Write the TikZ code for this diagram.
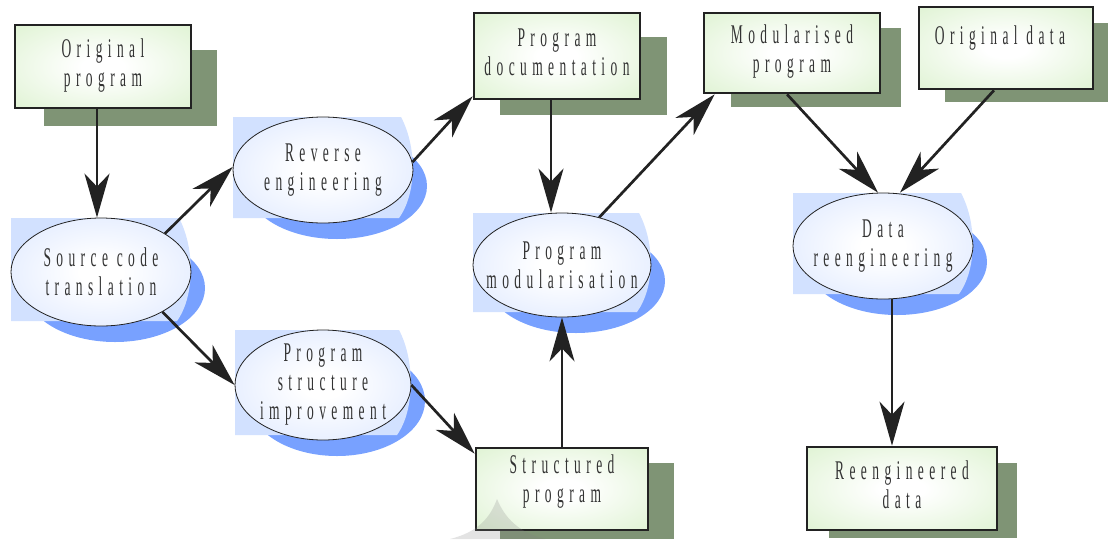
\documentclass[tikz,border=0pt]{standalone}
\usepackage{fontspec}
\usetikzlibrary{arrows.meta,shapes.geometric}
\newfontfamily\lblfont{Liberation Serif}[FakeStretch=0.5,LetterSpace=20]
\definecolor{boxgreen}{HTML}{D5EFC5}
\definecolor{boxshadow}{HTML}{7F9475}
\definecolor{ellblue}{HTML}{CCDCFF}
\definecolor{ellshadow}{HTML}{78A1FF}
\definecolor{ellbg}{HTML}{D2E1FF}
\definecolor{ink}{HTML}{222222}
\definecolor{txt}{HTML}{333333}
\pgfdeclareradialshading{boxshade}{\pgfpointorigin}{color(0bp)=(white); color(6bp)=(white); color(46bp)=(boxgreen); color(100bp)=(boxgreen)}
\pgfdeclareradialshading{ellshade}{\pgfpointorigin}{color(0bp)=(white); color(6bp)=(white); color(50bp)=(ellblue); color(100bp)=(ellblue)}
\tikzset{
 box/.style={draw=ink, line width=2.6pt, shading=boxshade, rectangle, inner sep=0pt},
 ell/.style={draw=ink, line width=0.8pt, shading=ellshade, ellipse, inner sep=0pt},
 lbl/.style={font=\lblfont\fontsize{27}{29}\selectfont, text=txt, align=center, inner sep=0pt},
 conn/.style={draw=ink, line width=2.7pt, -{Stealth[length=44pt,width=25pt,inset=13pt]}},
 bshadow/.style={fill=boxshadow},
 eshadow/.style={fill=ellshadow},
 ebg/.style={fill=ellbg},
}
\newcommand\EllNode[6]{%
  \fill[eshadow] (#2+14,#3+16) ellipse [x radius=#4, y radius=#5];
  \fill[ebg] (#2-#4,#3-#5) -- (#2+#4-12,#3-#5) .. controls (#2+#4+4,#3-#5+30) and (#2+#4+4,#3+#5-30) .. (#2+#4-14,#3+#5-5) -- (#2-#4,#3+#5-5) -- cycle;
  \node[ell, minimum width={(2*#4)*1pt}, minimum height={(2*#5)*1pt}] (#1) at (#2,#3) {};
  \node[lbl] (#1-t) at (#2,#3) {#6};
}
\begin{document}
\begin{tikzpicture}[x=1pt,y=-1pt]
\useasboundingbox (0,0) rectangle (1108,539);
% box shadows
\fill[bshadow] (44,50) rectangle (217,126);
\fill[bshadow] (500,37) rectangle (667,115);
\fill[bshadow] (731,28) rectangle (901,107);
\fill[bshadow] (945,23) rectangle (1108,102);
\fill[bshadow] (500,463) rectangle (674,539);
\fill[bshadow] (829,463) rectangle (1017,538);
% boxes
\node[box, minimum width=176pt, minimum height=83pt] (op) at (103,66.5) {};
\node[lbl] (op-t) at (103,66) {Original\\program};
\node[box, minimum width=166pt, minimum height=86pt] (pd) at (557,56) {};
\node[lbl] (pd-t) at (557,52) {Program\\documentation};
\node[box, minimum width=176pt, minimum height=80pt] (mp) at (792,53) {};
\node[lbl] (mp-t) at (792,52) {Modularised\\program};
\node[box, minimum width=174pt, minimum height=82pt] (od) at (1006,48) {};
\node[lbl] (od-t) at (1000,38) {Original data};
\node[box, minimum width=172pt, minimum height=82pt] (sp) at (562,489) {};
\node[lbl] (sp-t) at (562,482) {Structured\\program};
\node[box, minimum width=190pt, minimum height=83pt] (rd) at (902,488.5) {};
\node[lbl] (rd-t) at (902,485) {Reengineered\\data};
% ellipses
\EllNode{sct}{101}{272}{90}{54}{Source code\\translation}
\EllNode{rev}{323}{170}{90}{53}{Reverse\\engineering}
\EllNode{psi}{323}{385}{88}{55}{Program\\structure\\improvement}
\EllNode{pm}{562}{265}{89}{52}{Program\\modularisation}
\EllNode{dr}{883}{246}{90}{53}{Data\\reengineering}
% faint artifact
\fill[gray,opacity=0.22] (450,539) .. controls (478,532) and (490,518) .. (497,499) .. controls (505,518) and (518,532) .. (545,539) -- cycle;
% connectors
\draw[conn] ([xshift=-6pt]op.south) -- ([xshift=-4pt]sct.north);
\draw[conn] (sct.31) -- (rev.178);
\draw[conn] (sct.-33) -- (psi.west);
\draw[conn] (rev.5) -- ([yshift=4pt]pd.south west);
\draw[conn] ([xshift=-6pt]pd.south) -- ([xshift=-11pt]pm.north);
\draw[conn] (psi.east) -- ([yshift=-7pt]sp.north west);
\draw[conn] (sp.north) -- (pm.south);
\draw[conn] (pm.52) -- ([xshift=12pt]mp.south west);
\draw[conn] ([xshift=-5pt]mp.south) -- ([xshift=-5pt]dr.north);
\draw[conn] ([xshift=-12pt]od.south) -- ([xshift=17pt]dr.north);
\draw[conn] ([xshift=9pt]dr.south) -- ([xshift=-10pt]rd.north);
\end{tikzpicture}
\end{document}
